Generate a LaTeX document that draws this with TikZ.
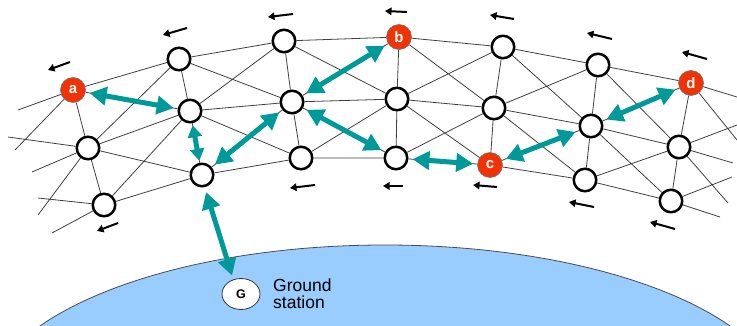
\documentclass[tikz,border=0pt]{standalone}
\usepackage{fontspec}
\setmainfont{Liberation Sans}
\usetikzlibrary{arrows.meta,shapes.geometric}
\definecolor{linkteal}{RGB}{0,153,153}
\definecolor{satred}{RGB}{240,50,5}
\definecolor{earthblue}{RGB}{153,204,255}
\begin{document}
\begin{tikzpicture}[x=1pt,y=-1pt,
  sat/.style={circle,draw=black,line width=2.5pt,fill=white,minimum size=22.5pt,inner sep=0pt},
  satmark/.style={circle,draw=black!55,line width=0.6pt,fill=satred,minimum size=25pt,inner sep=0pt,
    text=white,font=\bfseries\fontsize{15}{15}\selectfont},
  mesh/.style={draw=black!75,line width=0.8pt},
  isl/.style={linkteal,line width=5pt,
    {Triangle[length=17pt,width=18pt]}-{Triangle[length=17pt,width=18pt]},
    shorten <=4pt,shorten >=4pt},
  islshort/.style={linkteal,line width=5pt,
    {Triangle[length=12pt,width=14pt]}-{Triangle[length=12pt,width=14pt]},
    shorten <=2pt,shorten >=2pt},
  motion/.style={line width=2pt,-{Triangle[length=6.5pt,width=7.5pt]}},
]
\useasboundingbox (0,0) rectangle (737,326);

% Earth
\begin{scope}
  \clip (0,0) rectangle (737,326);
  \draw[draw=black!70,line width=0.8pt,fill=earthblue] (385,409) ellipse [x radius=400pt,y radius=164pt];
\end{scope}

% satellites: column i, row j (1 = leading edge, 3 = trailing edge)
\node[satmark] (v11) at (73,90)  {a};
\node[sat]     (v12) at (88,148)  {};
\node[sat]     (v13) at (104,205) {};
\node[sat]     (v21) at (179,59)  {};
\node[sat]     (v22) at (190,111) {};
\node[sat]     (v23) at (202,175) {};
\node[sat]     (v31) at (284,41)  {};
\node[sat]     (v32) at (292,102) {};
\node[sat]     (v33) at (301,158) {};
\node[satmark] (v41) at (399,37)  {b};
\node[sat]     (v42) at (397,99)  {};
\node[sat]     (v43) at (396,158) {};
\node[sat]     (v51) at (503,47)  {};
\node[sat]     (v52) at (494,108) {};
\node[satmark] (v53) at (490,165) {c};
\node[sat]     (v61) at (598,65)  {};
\node[sat]     (v62) at (591,126) {};
\node[sat]     (v63) at (585,180) {};
\node[satmark] (v71) at (691,83)  {d};
\node[sat]     (v72) at (679,147) {};
\node[sat]     (v73) at (671,201) {};

% inter-satellite mesh
\foreach \i in {1,...,6}{
  \pgfmathtruncatemacro{\k}{\i+1}
  \draw[mesh] (v\i1) -- (v\k1) (v\i2) -- (v\k2) (v\i3) -- (v\k3)
              (v\i1) -- (v\k2) (v\i2) -- (v\k1)
              (v\i2) -- (v\k3) (v\i3) -- (v\k2);
}
\foreach \i in {1,...,7}{
  \draw[mesh] (v\i1) -- (v\i2) (v\i2) -- (v\i3);
}

% links continuing past the edges
\coordinate (l1) at (18,110);
\coordinate (l2) at (15,150);
\coordinate (l3) at (8,137);
\coordinate (l4) at (32,172);
\coordinate (l5) at (38,215);
\coordinate (l6) at (38,198);
\coordinate (l7) at (52,233);
\coordinate (r1) at (737,97);
\coordinate (r2) at (737,140);
\coordinate (r3) at (737,125);
\coordinate (r4) at (733,163);
\coordinate (r5) at (728,203);
\coordinate (r6) at (732,177);
\coordinate (r7) at (720,217);
\draw[mesh] (v11) -- (l1) (v11) -- (l2)
            (v12) -- (l3) (v12) -- (l4) (v12) -- (l5)
            (v13) -- (l6) (v13) -- (l7);
\draw[mesh] (v71) -- (r1) (v71) -- (r2)
            (v72) -- (r3) (v72) -- (r4) (v72) -- (r5)
            (v73) -- (r6) (v73) -- (r7);

% direction of motion
\draw[motion] (70,62)  -- (48,70);
\draw[motion] (187,28) -- (163,35);
\draw[motion] (118,223) -- (97,231);
\draw[motion] (293,14) -- (268,17);
\draw[motion] (407,12) -- (385,11);
\draw[motion] (315,185) -- (290,188);
\draw[motion] (403,186) -- (383,186);
\draw[motion] (497,187) -- (473,185);
\draw[motion] (514,19) -- (490,15);
\draw[motion] (612,39) -- (587,33);
\draw[motion] (707,59) -- (682,52);
\draw[motion] (594,207) -- (569,202);
\draw[motion] (675,229) -- (650,222);

% ground station
\node[ellipse,draw=black!80,line width=0.8pt,fill=white,minimum width=38pt,minimum height=31pt,
      inner sep=0pt,font=\bfseries\fontsize{12.5}{12.5}\selectfont] (G) at (241,294) {G};
\node[anchor=north west,align=left,inner sep=0pt,font=\fontsize{17.5}{17}\selectfont]
      (gslabel) at (273,279) {Ground\\station};

% routing path
\draw[isl] (v11) -- (v22);
\draw[islshort] (v22) -- (v23);
\draw[isl] (v23) -- (v32);
\draw[isl] (v32) -- (v41);
\draw[isl] (v32) -- (v43);
\draw[isl] (v43) -- (v53);
\draw[isl] (v53) -- (v62);
\draw[isl] (v62) -- (v71);
\draw[isl,shorten <=5pt,shorten >=4pt] (v23.-78) -- (G.118);
\end{tikzpicture}
\end{document}
